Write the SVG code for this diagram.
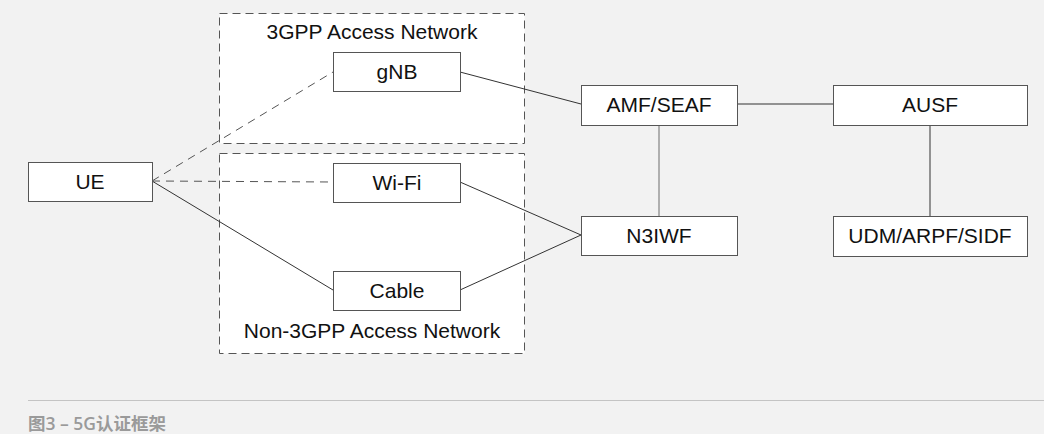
<svg xmlns="http://www.w3.org/2000/svg" width="1044" height="434" viewBox="0 0 1044 434">
<style>
.bg{fill:#f2f2f2}
.node rect{fill:#fff;stroke:#555;stroke-width:1}
.lbl{font-family:"Liberation Sans",Arial,sans-serif;font-size:21px;fill:#111;text-anchor:middle}
.zone rect{fill:#fff;stroke:#555;stroke-width:1;stroke-dasharray:8 5}
.conn line{stroke:#333;stroke-width:1;fill:none}
.conn line.dash{stroke:#555;stroke-dasharray:8 6}
.conn line.gray{stroke:#999;stroke-width:1.5}
.cap{font-family:"Open Sans","Noto Sans CJK SC",sans-serif;font-size:17.5px;font-weight:600;fill:#9a9a9a}
</style>
<rect class="bg" x="0" y="0" width="1044" height="434"/>
<g id="zone-3gpp" class="zone">
<rect x="219.5" y="13.5" width="305" height="130"/>
<text class="lbl" x="372" y="39">3GPP Access Network</text>
</g>
<g id="zone-non3gpp" class="zone">
<rect x="219.5" y="153.5" width="305" height="200"/>
<text class="lbl" x="372" y="338">Non-3GPP Access Network</text>
</g>
<g id="connectors" class="conn">
<line class="dash" x1="152" y1="181" x2="333" y2="72"/>
<line class="dash" x1="152" y1="181" x2="333" y2="182"/>
<line x1="152" y1="181" x2="333" y2="290"/>
<line x1="460" y1="72" x2="581" y2="104"/>
<line x1="460" y1="182" x2="581" y2="235"/>
<line x1="460" y1="290" x2="581" y2="235"/>
<line class="gray" x1="659" y1="125" x2="659" y2="216"/>
<line x1="737" y1="104" x2="833" y2="104"/>
<line x1="930" y1="125" x2="930" y2="216"/>
</g>
<g id="ue" class="node"><rect x="28.5" y="162.5" width="124" height="39"/><text class="lbl" x="90" y="189">UE</text></g>
<g id="gnb" class="node"><rect x="333.5" y="52.5" width="127" height="39"/><text class="lbl" x="397" y="79">gNB</text></g>
<g id="wifi" class="node"><rect x="333.5" y="163.5" width="127" height="39"/><text class="lbl" x="397" y="190">Wi-Fi</text></g>
<g id="cable" class="node"><rect x="333.5" y="271.5" width="127" height="39"/><text class="lbl" x="397" y="298">Cable</text></g>
<g id="amf" class="node"><rect x="581.5" y="85.5" width="156" height="40"/><text class="lbl" x="659" y="112">AMF/SEAF</text></g>
<g id="n3iwf" class="node"><rect x="581.5" y="216.5" width="156" height="39"/><text class="lbl" x="659" y="243">N3IWF</text></g>
<g id="ausf" class="node"><rect x="833.5" y="85.5" width="194" height="40"/><text class="lbl" x="930" y="112">AUSF</text></g>
<g id="udm" class="node"><rect x="833.5" y="216.5" width="194" height="40"/><text class="lbl" x="930" y="243">UDM/ARPF/SIDF</text></g>
<line x1="28" y1="400.5" x2="1044" y2="400.5" stroke="#c4c4c4" stroke-width="1"/>
<text class="cap" x="28" y="430">图3 – 5G认证框架</text>
</svg>
